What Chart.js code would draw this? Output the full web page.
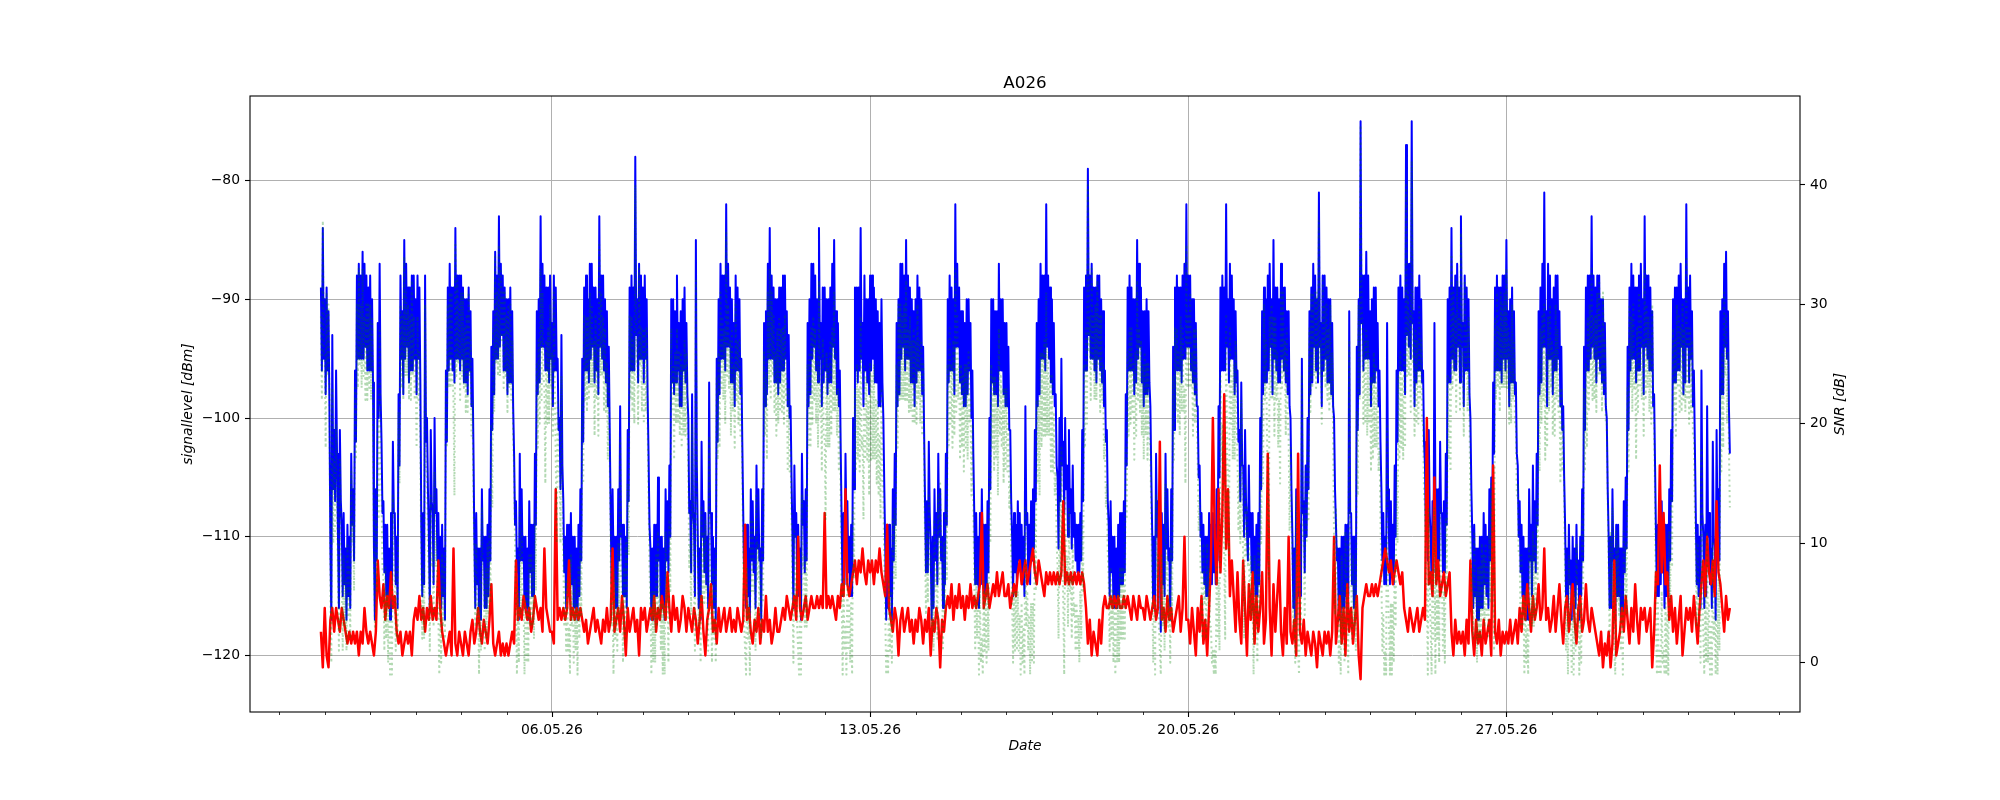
<!DOCTYPE html>
<html>
<head>
<meta charset="utf-8">
<script src="https://cdn.jsdelivr.net/npm/chart.js@4.4.1/dist/chart.umd.min.js"></script>
<style>
  html, body { margin: 0; padding: 0; background: #ffffff; }
  #wrap { width: 2000px; height: 800px; }
</style>
</head>
<body>
<div id="wrap"><canvas id="chart" width="2000" height="800"></canvas></div>
<script>
// x is counted in days since 01.05.26 00:00, first sample is 30.04.26 22:00
const startDay = -2 / 24;
const signalStep = 1 / 48; // signal level and SNR every 30 min
const noiseStep = 1 / 24;  // noise level every hour

// signal level [dBm], 30 min samples
const signalLevel = [
  -89, -96, -84, -95,
  -90, -98, -89, -96, -91, -99, -111, -117, -93, -106, -101, -107, -96, -103, -110, -116, -101, -107, -109, -115, -108, -114, -111, -117, -109, -115, -110, -116, -103, -109, -106, -112, -96, -102, -88, -95, -87, -95, -88, -95, -86, -95, -87, -94, -88, -96, -89, -96, // 01.05
  -88, -96, -90, -97, -111, -117, -106, -112, -92, -100, -87, -98, -102, -108, -107, -113, -109, -115, -109, -115, -111, -117, -108, -114, -102, -108, -108, -114, -110, -116, -98, -104, -88, -95, -91, -98, -85, -95, -87, -94, -89, -97, -89, -96, -88, -96, -88, -95, // 02.05
  -90, -98, -88, -95, -89, -97, -109, -115, -108, -114, -88, -102, -100, -106, -110, -116, -101, -107, -108, -114, -100, -108, -106, -112, -108, -114, -110, -116, -109, -115, -111, -117, -96, -102, -89, -96, -87, -95, -89, -96, -89, -97, -84, -95, -88, -95, -88, -96, // 03.05
  -88, -95, -89, -97, -90, -97, -90, -98, -89, -96, -91, -99, -95, -102, -110, -116, -108, -114, -111, -117, -111, -117, -106, -112, -110, -116, -110, -116, -109, -115, -106, -112, -94, -101, -91, -98, -86, -95, -88, -95, -83, -94, -87, -93, -88, -96, -89, -96, // 04.05
  -90, -98, -90, -97, -89, -97, -91, -99, -103, -109, -107, -113, -111, -117, -103, -112, -106, -112, -110, -116, -110, -116, -111, -117, -107, -113, -109, -115, -109, -115, -103, -109, -91, -98, -90, -97, -83, -94, -87, -94, -88, -96, -89, -96, -89, -97, -88, -95, // 05.05
  -92, -99, -88, -96, -89, -96, -95, -101, -100, -106, -93, -104, -107, -113, -110, -116, -109, -115, -109, -115, -108, -114, -110, -116, -110, -116, -111, -117, -109, -115, -106, -112, -95, -102, -89, -96, -88, -96, -90, -97, -87, -95, -87, -94, -89, -97, -89, -96, // 06.05
  -90, -98, -83, -94, -88, -95, -88, -96, -90, -97, -91, -99, -94, -101, -108, -114, -106, -112, -110, -116, -110, -116, -106, -112, -99, -110, -109, -115, -109, -115, -110, -116, -101, -107, -89, -96, -88, -96, -89, -96, -78, -93, -90, -97, -87, -95, -88, -95, // 07.05
  -89, -97, -88, -95, -90, -98, -103, -109, -111, -117, -111, -117, -109, -115, -109, -115, -105, -112, -110, -116, -110, -116, -111, -117, -106, -112, -107, -113, -104, -110, -90, -97, -90, -98, -91, -97, -88, -96, -92, -99, -91, -99, -90, -96, -89, -97, -92, -98, // 08.05
  -100, -108, -107, -113, -98, -108, -109, -115, -85, -104, -110, -116, -111, -117, -102, -110, -107, -113, -108, -114, -110, -116, -97, -108, -108, -114, -110, -116, -111, -117, -95, -102, -90, -98, -87, -95, -88, -95, -88, -96, -82, -94, -87, -94, -89, -97, -90, -97, // 09.05
  -92, -99, -88, -96, -89, -96, -90, -98, -95, -102, -108, -114, -110, -116, -109, -115, -111, -117, -106, -112, -107, -113, -110, -116, -104, -111, -106, -112, -111, -117, -106, -112, -92, -99, -91, -98, -87, -95, -84, -95, -88, -95, -89, -97, -90, -97, -90, -98, // 10.05
  -89, -97, -89, -96, -88, -96, -88, -95, -91, -99, -93, -100, -99, -105, -110, -116, -104, -110, -108, -114, -109, -115, -111, -117, -103, -109, -107, -113, -106, -112, -92, -99, -90, -98, -87, -95, -87, -94, -88, -96, -90, -97, -84, -95, -92, -99, -89, -97, // 11.05
  -89, -96, -90, -98, -90, -97, -89, -97, -87, -94, -85, -95, -91, -98, -92, -99, -96, -103, -109, -115, -108, -114, -103, -109, -107, -113, -110, -115, -109, -115, -100, -106, -89, -96, -89, -97, -89, -96, -84, -95, -92, -99, -88, -96, -90, -97, -90, -98, // 12.05
  -88, -96, -88, -95, -89, -97, -90, -97, -91, -99, -92, -99, -90, -97, -100, -106, -111, -117, -110, -116, -109, -115, -111, -117, -106, -112, -103, -109, -92, -99, -90, -98, -87, -95, -87, -94, -88, -96, -85, -95, -88, -95, -89, -97, -90, -97, -91, -99, // 13.05
  -90, -97, -88, -96, -89, -96, -90, -98, -94, -101, -107, -113, -107, -113, -102, -108, -111, -117, -110, -116, -106, -112, -108, -114, -103, -110, -106, -112, -110, -116, -108, -114, -103, -109, -90, -97, -88, -96, -89, -96, -90, -98, -82, -94, -87, -94, -89, -97, // 14.05
  -91, -98, -91, -99, -92, -99, -90, -98, -90, -96, -92, -100, -96, -103, -108, -114, -108, -114, -110, -116, -108, -114, -106, -112, -109, -115, -109, -115, -107, -113, -100, -106, -90, -97, -90, -98, -91, -98, -91, -99, -87, -96, -90, -96, -90, -98, -92, -99, // 15.05
  -92, -99, -94, -101, -101, -107, -110, -115, -108, -113, -109, -114, -107, -112, -108, -113, -109, -114, -110, -115, -99, -109, -108, -113, -109, -114, -107, -112, -106, -111, -101, -107, -92, -99, -90, -98, -87, -95, -88, -95, -88, -96, -82, -94, -88, -95, -89, -97, // 16.05
  -90, -98, -92, -99, -98, -104, -105, -111, -100, -107, -95, -104, -102, -108, -100, -106, -104, -110, -101, -108, -106, -111, -104, -110, -108, -112, -109, -113, -109, -113, -108, -112, -101, -107, -89, -96, -88, -96, -79, -93, -88, -95, -87, -95, -89, -96, -89, -97, // 17.05
  -88, -95, -88, -96, -90, -97, -91, -99, -96, -102, -101, -107, -109, -115, -107, -113, -110, -116, -110, -116, -111, -116, -109, -115, -108, -114, -108, -114, -107, -113, -98, -104, -89, -96, -88, -96, -89, -96, -90, -98, -90, -97, -85, -95, -87, -94, -89, -97, // 18.05
  -91, -99, -91, -98, -90, -98, -91, -97, -99, -105, -110, -116, -110, -116, -103, -110, -107, -113, -112, -118, -108, -114, -109, -115, -103, -111, -106, -112, -111, -117, -106, -112, -94, -101, -89, -96, -88, -96, -89, -96, -89, -97, -88, -95, -87, -95, -82, -94, // 19.05
  -88, -94, -88, -96, -90, -97, -90, -98, -92, -99, -99, -105, -104, -110, -108, -113, -109, -114, -110, -115, -110, -115, -108, -113, -109, -114, -108, -113, -109, -114, -106, -112, -99, -105, -89, -96, -88, -96, -89, -96, -82, -94, -90, -97, -87, -95, -88, -95, // 20.05
  -90, -98, -91, -97, -96, -102, -101, -107, -97, -104, -104, -110, -101, -107, -107, -112, -104, -110, -108, -113, -108, -114, -110, -115, -109, -115, -108, -114, -100, -106, -91, -98, -89, -97, -90, -97, -88, -96, -87, -94, -90, -98, -85, -95, -89, -96, -89, -97, // 21.05
  -90, -97, -87, -95, -89, -96, -89, -97, -91, -98, -91, -99, -100, -106, -110, -116, -111, -117, -106, -112, -109, -115, -109, -115, -95, -108, -107, -113, -104, -110, -100, -106, -91, -98, -89, -97, -87, -94, -88, -96, -90, -97, -81, -94, -92, -99, -88, -96, // 22.05
  -88, -95, -89, -97, -90, -97, -90, -98, -92, -99, -100, -106, -106, -112, -111, -117, -111, -117, -110, -116, -110, -116, -109, -115, -109, -115, -91, -108, -108, -114, -110, -116, -110, -116, -94, -101, -90, -98, -75, -92, -88, -96, -88, -95, -86, -95, -88, -95, // 23.05
  -91, -99, -90, -97, -89, -97, -89, -96, -92, -99, -96, -102, -106, -112, -108, -114, -110, -114, -92, -106, -110, -114, -107, -113, -109, -114, -104, -110, -96, -102, -89, -96, -88, -96, -89, -96, -90, -98, -77, -93, -87, -94, -87, -95, -75, -92, -91, -99, // 24.05
  -89, -97, -89, -96, -88, -96, -90, -97, -96, -102, -104, -110, -106, -112, -101, -108, -110, -114, -107, -113, -92, -106, -106, -112, -106, -112, -102, -108, -108, -113, -107, -113, -103, -109, -90, -97, -89, -97, -84, -95, -89, -96, -88, -96, -87, -94, -89, -97, // 25.05
  -83, -94, -92, -99, -88, -96, -89, -96, -90, -98, -100, -106, -110, -116, -109, -115, -111, -117, -111, -117, -110, -116, -110, -116, -108, -114, -109, -115, -110, -116, -106, -112, -105, -111, -97, -103, -89, -96, -88, -96, -89, -96, -89, -97, -88, -95, -88, -96, // 26.05
  -85, -95, -91, -99, -90, -97, -89, -97, -91, -98, -97, -103, -104, -110, -107, -113, -109, -115, -110, -116, -111, -117, -111, -117, -106, -112, -109, -115, -104, -112, -107, -113, -103, -109, -91, -98, -89, -97, -87, -94, -81, -94, -91, -99, -87, -95, -88, -95, // 27.05
  -90, -98, -89, -96, -88, -96, -88, -95, -91, -99, -94, -101, -99, -105, -109, -115, -111, -116, -109, -114, -112, -117, -110, -115, -111, -116, -109, -114, -112, -117, -110, -115, -106, -112, -94, -101, -89, -96, -88, -96, -88, -95, -83, -94, -88, -95, -89, -97, // 28.05
  -88, -95, -88, -96, -90, -97, -90, -98, -92, -99, -100, -106, -110, -116, -110, -116, -106, -112, -111, -117, -109, -115, -109, -115, -111, -117, -111, -117, -107, -113, -105, -111, -94, -101, -89, -96, -87, -95, -88, -95, -89, -97, -89, -96, -88, -96, -87, -94, // 29.05
  -90, -98, -83, -94, -88, -95, -88, -96, -89, -96, -91, -99, -98, -104, -110, -115, -109, -115, -108, -114, -107, -113, -110, -116, -109, -115, -109, -115, -106, -112, -101, -107, -90, -97, -89, -97, -89, -96, -88, -96, -87, -94, -90, -98, -90, -97, -82, -94, // 30.05
  -89, -97, -88, -95, -91, -99, -96, -102, -108, -114, -109, -115, -110, -116, -96, -108, -110, -116, -109, -115, -99, -110, -108, -114, -111, -116, -102, -110, -111, -117, -101, -110, -106, -112, -91, -98, -90, -98, -87, -94, -86, -95, -91, -99, -103, // 31.05
];

// noise level [dBm], hourly samples
const noiseLevel = [
  -118, -121,
  -116, -120, -121, -117, -116, -118, -116, -117, -118, -116, -117, -118, -119, -118, -119, -118, -119, -118, -120, -118, -119, -116, -118, -119, // 01.05
  -118, -119, -120, -118, -112, -115, -116, -114, -117, -115, -116, -113, -116, -115, -118, -119, -118, -120, -119, -118, -119, -118, -120, -117, // 02.05
  -116, -117, -115, -117, -116, -118, -116, -117, -115, -117, -116, -117, -112, -116, -118, -119, -120, -119, -118, -120, -111, -119, -120, -118, // 03.05
  -119, -120, -118, -119, -120, -118, -117, -119, -118, -116, -118, -119, -117, -118, -119, -117, -114, -119, -120, -119, -118, -120, -119, -120, // 04.05
  -119, -120, -119, -118, -119, -112, -117, -116, -117, -115, -116, -117, -116, -118, -117, -115, -116, -117, -116, -118, -111, -116, -117, -118, // 05.05
  -118, -119, -106, -117, -116, -117, -116, -117, -116, -112, -117, -116, -117, -116, -117, -116, -117, -118, -117, -119, -118, -117, -116, -118, // 06.05
  -117, -118, -119, -117, -118, -116, -118, -117, -111, -118, -117, -116, -118, -115, -117, -120, -116, -118, -117, -116, -118, -117, -120, -116, // 07.05
  -117, -116, -118, -117, -116, -117, -115, -118, -116, -117, -115, -116, -117, -113, -116, -118, -115, -117, -116, -118, -117, -115, -116, -118, // 08.05
  -116, -117, -118, -116, -117, -119, -117, -115, -118, -120, -117, -116, -114, -118, -117, -119, -116, -118, -117, -116, -118, -117, -116, -118, // 09.05
  -117, -118, -116, -117, -118, -117, -109, -117, -116, -118, -119, -117, -118, -116, -119, -117, -118, -115, -118, -117, -119, -118, -116, -118, // 10.05
  -118, -117, -116, -117, -115, -116, -117, -116, -115, -117, -110, -116, -117, -116, -115, -117, -116, -115, -116, -116, -115, -116, -115, -116, // 11.05
  -108, -116, -115, -116, -115, -116, -117, -115, -116, -114, -115, -106, -114, -115, -114, -113, -112, -114, -112, -113, -111, -113, -114, -112, // 12.05
  -113, -112, -114, -112, -113, -111, -113, -114, -115, -109, -116, -117, -118, -116, -117, -120, -117, -116, -118, -117, -116, -118, -117, -119, // 13.05
  -117, -118, -116, -117, -119, -117, -118, -116, -120, -117, -118, -116, -117, -121, -117, -118, -116, -115, -116, -114, -117, -115, -116, -114, // 14.05
  -116, -115, -117, -115, -116, -114, -116, -115, -116, -115, -114, -108, -116, -115, -114, -116, -115, -114, -115, -113, -115, -114, -113, -115, // 15.05
  -115, -114, -116, -115, -114, -115, -113, -112, -114, -113, -112, -114, -113, -112, -111, -113, -114, -112, -113, -114, -115, -113, -114, -113, // 16.05
  -114, -113, -114, -113, -114, -113, -107, -114, -113, -114, -113, -114, -113, -114, -113, -114, -113, -114, -116, -119, -117, -120, -118, -119, // 17.05
  -120, -117, -119, -116, -115, -116, -116, -115, -116, -115, -116, -115, -116, -116, -115, -116, -115, -116, -117, -115, -116, -117, -115, -116, // 18.05
  -116, -117, -115, -116, -117, -116, -115, -117, -116, -102, -117, -116, -118, -115, -117, -116, -118, -117, -116, -115, -118, -116, -110, -117, // 19.05
  -117, -119, -116, -118, -120, -116, -118, -115, -119, -117, -120, -116, -112, -100, -110, -114, -106, -113, -108, -98, -111, -106, -115, -112, // 20.05
  -115, -118, -113, -117, -119, -112, -116, -120, -114, -117, -113, -119, -115, -118, -116, -113, -119, -117, -103, -116, -120, -114, -118, -115, // 21.05
  -112, -118, -120, -116, -119, -110, -118, -119, -117, -120, -103, -118, -119, -117, -120, -118, -119, -120, -118, -119, -121, -118, -119, -120, // 22.05
  -118, -119, -118, -120, -118, -110, -119, -117, -115, -119, -116, -120, -114, -118, -116, -119, -117, -115, -120, -122, -116, -115, -114, -115, // 23.05
  -115, -114, -115, -114, -115, -114, -113, -112, -111, -112, -113, -112, -114, -113, -112, -113, -114, -113, -116, -117, -118, -116, -117, -118, // 24.05
  -117, -116, -118, -117, -116, -117, -100, -114, -113, -115, -105, -114, -112, -115, -114, -113, -115, -114, -113, -118, -120, -117, -119, -118, // 25.05
  -119, -118, -120, -117, -119, -112, -118, -120, -117, -119, -118, -120, -117, -119, -118, -117, -120, -104, -118, -119, -117, -120, -118, -119, // 26.05
  -118, -119, -117, -119, -118, -117, -119, -116, -118, -115, -117, -114, -116, -118, -115, -117, -116, -114, -117, -116, -111, -117, -116, -118, // 27.05
  -117, -115, -118, -116, -114, -117, -119, -116, -115, -118, -116, -114, -117, -119, -116, -115, -118, -117, -114, -117, -118, -116, -117, -118, // 28.05
  -119, -120, -118, -121, -119, -120, -118, -121, -119, -112, -120, -119, -118, -116, -118, -115, -117, -119, -116, -118, -114, -117, -119, -116, // 29.05
  -117, -116, -118, -117, -116, -121, -118, -113, -114, -104, -113, -108, -114, -113, -117, -115, -118, -116, -119, -117, -115, -120, -118, -116, // 30.05
  -117, -116, -118, -115, -117, -119, -116, -114, -112, -115, -110, -113, -114, -112, -115, -107, -113, -114, -116, -118, -115, -117, -116, // 31.05
];

// SNR [dB], right axis, 30 min samples
const snr = [
  29, 22, 37, 26,
  26, 18, 31, 24, 30, 22, 6, 0, 23, 10, 17, 11, 20, 13, 7, 1, 17, 11, 7, 1, 9, 3, 7, 1, 10, 4, 8, 2, 16, 10, 12, 6, 23, 17, 30, 23, 33, 25, 30, 23, 33, 24, 29, 22, 30, 22, 30, 23, // 01.05
  30, 22, 29, 22, 9, 3, 12, 6, 20, 12, 28, 17, 14, 8, 7, 1, 8, 2, 6, 0, 5, -1, 5, -1, 14, 8, 7, 1, 8, 2, 21, 15, 30, 23, 29, 22, 34, 24, 31, 24, 30, 22, 29, 22, 32, 24, 29, 22, // 02.05
  26, 18, 29, 22, 26, 18, 8, 2, 8, 2, 30, 16, 16, 10, 7, 1, 14, 8, 9, 3, 16, 8, 11, 5, 4, -1, 6, 0, 9, 3, 8, 2, 24, 18, 30, 23, 31, 23, 31, 24, 22, 14, 35, 24, 32, 25, 30, 22, // 03.05
  31, 24, 31, 23, 28, 21, 29, 21, 31, 24, 27, 19, 22, 15, 9, 3, 10, 4, 5, -1, 7, 1, 13, 7, 7, 1, 8, 2, 10, 4, 11, 5, 20, 13, 28, 21, 34, 25, 31, 24, 35, 24, 33, 27, 31, 23, 31, 24, // 04.05
  29, 21, 30, 23, 30, 22, 27, 19, 16, 10, 5, -1, 6, 0, 13, 4, 11, 5, 5, -1, 6, 0, 6, 0, 9, 3, 9, 3, 8, 2, 12, 6, 25, 18, 27, 20, 33, 22, 31, 24, 23, 15, 27, 20, 28, 20, 30, 23, // 05.05
  26, 19, 31, 23, 17, 10, 22, 16, 16, 10, 24, 13, 9, 3, 7, 1, 7, 1, 3, -1, 9, 3, 6, 0, 7, 1, 5, -1, 8, 2, 10, 4, 22, 15, 29, 22, 29, 21, 29, 22, 31, 23, 30, 23, 27, 19, 29, 22, // 06.05
  27, 19, 35, 24, 31, 24, 29, 21, 28, 21, 25, 17, 24, 17, 9, 3, 5, -1, 8, 2, 7, 1, 10, 4, 19, 8, 6, 0, 8, 2, 10, 4, 15, 9, 29, 22, 29, 21, 27, 20, 40, 25, 27, 20, 33, 25, 28, 21, // 07.05
  28, 20, 28, 21, 28, 20, 14, 8, 5, -1, 6, 0, 6, 0, 9, 3, 11, 4, 7, 1, 5, -1, 5, -1, 11, 5, 6, 0, 12, 6, 28, 21, 25, 17, 26, 20, 28, 20, 26, 19, 26, 18, 25, 19, 27, 19, 26, 20, // 08.05
  16, 8, 10, 4, 20, 10, 7, 1, 32, 13, 9, 3, 6, 0, 13, 5, 11, 5, 12, 6, 7, 1, 19, 8, 6, 0, 8, 2, 6, 0, 24, 17, 26, 18, 31, 23, 29, 22, 28, 20, 36, 24, 30, 23, 27, 19, 28, 21, // 09.05
  25, 18, 30, 22, 27, 20, 27, 19, 23, 16, 9, 3, 1, -1, 8, 2, 5, -1, 12, 6, 12, 6, 7, 1, 14, 7, 10, 4, 8, 2, 11, 5, 26, 19, 24, 17, 31, 23, 33, 22, 31, 24, 29, 21, 26, 19, 28, 20, // 10.05
  29, 21, 28, 21, 28, 20, 29, 22, 24, 16, 23, 16, 18, 12, 6, 0, 11, 5, 9, 3, 1, -1, 5, -1, 14, 8, 9, 3, 9, 3, 25, 18, 26, 18, 28, 20, 29, 22, 28, 20, 25, 18, 32, 21, 23, 16, 27, 19, // 11.05
  19, 12, 26, 18, 25, 18, 27, 19, 28, 21, 31, 21, 26, 19, 23, 16, 20, 13, 5, -1, 7, 1, 3, -1, 7, 1, 5, 0, 5, -1, 13, 7, 23, 16, 25, 17, 23, 16, 29, 18, 19, 12, 25, 17, 24, 17, 22, 14, // 12.05
  25, 17, 24, 17, 25, 17, 22, 15, 22, 14, 19, 12, 23, 16, 14, 8, 4, -1, 1, -1, 7, 1, 6, 0, 12, 6, 13, 7, 25, 18, 30, 22, 30, 22, 29, 22, 30, 22, 32, 22, 28, 21, 29, 21, 27, 20, 28, 20, // 13.05
  27, 20, 30, 22, 27, 20, 27, 19, 25, 18, 10, 4, 11, 5, 14, 8, 9, 3, 7, 1, 12, 6, 8, 2, 14, 7, 15, 9, 7, 1, 10, 4, 13, 7, 25, 18, 28, 20, 25, 18, 27, 19, 33, 21, 29, 22, 25, 17, // 14.05
  25, 18, 24, 16, 25, 18, 25, 17, 26, 20, 22, 14, 20, 13, 7, 1, 8, 2, 5, -1, 6, 0, 2, -1, 7, 1, 6, 0, 7, 1, 16, 10, 25, 18, 24, 16, 24, 17, 22, 14, 28, 19, 24, 18, 23, 15, 23, 16, // 15.05
  23, 16, 20, 13, 15, 9, 5, 0, 6, 1, 6, 1, 6, 1, 4, -1, 5, 0, 3, -1, 13, 3, 6, 1, 4, -1, 5, 0, 5, 0, 12, 6, 22, 15, 22, 14, 26, 18, 26, 19, 27, 19, 31, 19, 26, 19, 24, 16, // 16.05
  24, 16, 21, 14, 16, 10, 8, 2, 14, 7, 18, 9, 5, -1, 14, 8, 9, 3, 13, 6, 7, 2, 10, 4, 5, 1, 5, 1, 4, 0, 6, 2, 12, 6, 25, 18, 28, 20, 40, 26, 29, 22, 33, 25, 29, 22, 30, 22, // 17.05
  32, 25, 29, 21, 29, 22, 25, 17, 19, 13, 15, 9, 7, 1, 8, 2, 6, 0, 5, -1, 5, 0, 6, 0, 8, 2, 8, 2, 8, 2, 18, 12, 26, 19, 28, 20, 28, 21, 25, 17, 26, 19, 32, 22, 28, 21, 27, 19, // 18.05
  25, 17, 26, 19, 25, 17, 25, 19, 18, 12, 6, 0, 5, -1, 14, 7, 9, 3, 1, -1, 9, 3, 7, 1, 15, 7, 9, 3, 6, 0, 10, 4, 24, 17, 28, 21, 28, 20, 26, 19, 29, 21, 28, 21, 23, 15, 35, 23, // 19.05
  29, 23, 31, 23, 26, 19, 28, 20, 28, 21, 17, 11, 14, 8, 7, 2, 10, 5, 7, 2, 10, 5, 8, 3, 3, 0, 1, -1, 1, -1, 8, 2, 7, 1, 24, 17, 20, 12, 9, 2, 29, 17, 16, 9, 28, 20, 24, 17, // 20.05
  25, 17, 27, 21, 17, 11, 16, 10, 22, 15, 8, 2, 15, 9, 13, 8, 10, 4, 9, 4, 5, -1, 9, 4, 6, 0, 10, 4, 16, 10, 22, 15, 30, 22, 27, 20, 15, 7, 29, 22, 30, 22, 29, 19, 29, 22, 26, 18, // 21.05
  22, 15, 31, 23, 31, 24, 27, 19, 28, 21, 19, 11, 18, 12, 9, 3, 6, 0, 14, 8, 1, -1, 9, 3, 24, 11, 10, 4, 16, 10, 18, 12, 28, 21, 31, 23, 31, 24, 31, 23, 31, 24, 37, 24, 27, 20, 32, 24, // 22.05
  30, 23, 30, 22, 28, 21, 30, 22, 26, 19, 10, 4, 13, 7, 6, 0, 4, -1, 9, 3, 6, 0, 11, 5, 5, -1, 27, 10, 8, 2, 9, 3, 7, 1, 21, 14, 30, 22, 45, 30, 28, 20, 27, 20, 28, 19, 27, 20, // 23.05
  24, 16, 24, 17, 26, 18, 25, 18, 23, 16, 18, 12, 7, 1, 4, -1, 1, -1, 20, 6, 3, -1, 5, -1, 5, 0, 9, 3, 16, 10, 24, 17, 26, 18, 24, 17, 26, 18, 40, 24, 31, 24, 29, 21, 42, 25, 27, 19, // 24.05
  28, 20, 27, 20, 30, 22, 27, 20, 20, 14, 13, 7, 6, -1, 13, 6, 3, -1, 8, 2, 13, -1, 8, 2, 6, 0, 13, 7, 6, 1, 6, 0, 12, 6, 24, 17, 24, 16, 34, 23, 31, 24, 29, 21, 32, 25, 29, 21, // 25.05
  36, 25, 26, 19, 32, 24, 28, 21, 29, 21, 12, 6, 8, 2, 11, 5, 6, 0, 8, 2, 8, 2, 10, 4, 9, 3, 10, 4, 8, 2, 11, 5, 15, 9, 7, 1, 29, 22, 31, 23, 28, 21, 31, 23, 30, 23, 31, 23, // 26.05
  33, 23, 28, 20, 27, 20, 30, 22, 27, 20, 20, 14, 15, 9, 9, 3, 9, 3, 5, -1, 6, 0, 3, -1, 10, 4, 9, 3, 11, 3, 10, 4, 13, 7, 23, 16, 28, 20, 29, 22, 30, 17, 26, 18, 29, 21, 30, 23, // 27.05
  27, 19, 26, 19, 30, 22, 28, 21, 23, 15, 23, 16, 20, 14, 7, 1, 4, -1, 9, 4, 4, -1, 4, -1, 6, 1, 10, 5, 4, -1, 5, 0, 12, 6, 23, 16, 25, 18, 29, 21, 30, 23, 33, 22, 29, 22, 29, 21, // 28.05
  31, 24, 32, 24, 28, 21, 31, 23, 27, 20, 20, 14, 8, 2, 11, 5, 13, 7, 1, -1, 11, 5, 10, 4, 7, 1, 5, -1, 11, 5, 10, 4, 23, 16, 30, 23, 29, 21, 30, 23, 25, 17, 28, 21, 31, 23, 29, 22, // 29.05
  27, 19, 33, 22, 30, 23, 29, 21, 27, 20, 30, 22, 20, 14, 3, -1, 5, -1, 1, -1, 6, 0, 1, -1, 5, -1, 4, -1, 11, 5, 14, 8, 28, 21, 27, 19, 30, 23, 29, 21, 28, 21, 30, 22, 28, 21, 34, 22, // 30.05
  28, 20, 28, 21, 27, 19, 19, 13, 9, 3, 10, 4, 6, 0, 18, 6, 2, -1, 6, 0, 11, 0, 5, -1, 3, -1, 10, 2, 4, -1, 6, -1, 7, 1, 23, 16, 26, 18, 31, 24, 29, 20, 26, 18, 13, // 31.05
];

const xTickDays = [5, 12, 19, 26];
const xTickLabels = ["06.05.26", "13.05.26", "20.05.26", "27.05.26"];
const leftTicks = [-120, -110, -100, -90, -80];
const rightTicks = [0, 10, 20, 30, 40];

const FONT = "DejaVu Sans";
const toPoints = (values, step) => values.map((v, i) => ({ x: startDay + i * step, y: v }));
const minusSign = (v) => String(v).replace("-", "\u2212");

// spines, minor x ticks, title and axis labels drawn like matplotlib does
const frame = {
  id: "frame",
  afterDraw(chart) {
    const { ctx, chartArea: a, scales } = chart;
    ctx.save();
    ctx.strokeStyle = "#000000";
    for (let d = Math.ceil(scales.x.min); d <= scales.x.max; d++) {
      const major = xTickDays.includes(d);
      const px = Math.round(scales.x.getPixelForValue(d)) + 0.5;
      ctx.lineWidth = major ? 1.1 : 0.8;
      ctx.beginPath();
      ctx.moveTo(px, a.bottom);
      ctx.lineTo(px, a.bottom + (major ? 5 : 3));
      ctx.stroke();
    }
    ctx.lineWidth = 1.1;
    ctx.strokeRect(a.left, a.top, a.right - a.left, a.bottom - a.top);

    const midX = (a.left + a.right) / 2;
    const midY = (a.top + a.bottom) / 2;
    ctx.fillStyle = "#000000";
    ctx.textAlign = "center";
    ctx.textBaseline = "alphabetic";
    ctx.font = `16.7px "${FONT}"`;
    ctx.fillText("A026", midX, a.top - 8.3);

    ctx.font = `italic 13.9px "${FONT}"`;
    ctx.textBaseline = "middle";
    ctx.fillText("Date", midX, 746);

    ctx.save();
    ctx.translate(188, midY);
    ctx.rotate(-Math.PI / 2);
    ctx.fillText("signallevel [dBm]", 0, 0);
    ctx.restore();

    ctx.save();
    ctx.translate(1840, midY);
    ctx.rotate(-Math.PI / 2);
    ctx.fillText("SNR [dB]", 0, 0);
    ctx.restore();
    ctx.restore();
  },
};

const tickFont = { family: FONT, size: 13.9 };

new Chart(document.getElementById("chart").getContext("2d"), {
  type: "line",
  data: {
    datasets: [
      {
        label: "signal level",
        data: toPoints(signalLevel, signalStep),
        yAxisID: "y",
        borderColor: "#0000ff",
        borderWidth: 2,
        order: 2,
      },
      {
        label: "noise level",
        data: toPoints(noiseLevel, noiseStep),
        yAxisID: "y",
        borderColor: "#ff0000",
        borderWidth: 2.5,
        order: 1,
      },
      {
        label: "SNR",
        data: toPoints(snr, signalStep),
        yAxisID: "y1",
        borderColor: "rgba(0, 128, 0, 0.3)",
        borderWidth: 2,
        borderDash: [2, 3.3],
        order: 0,
      },
    ],
  },
  options: {
    responsive: false,
    animation: false,
    events: [],
    parsing: false,
    normalized: true,
    layout: { padding: { top: 96, left: 0, right: 0, bottom: 0 } },
    elements: {
      point: { radius: 0 },
      line: { tension: 0, fill: false, borderJoinStyle: "round", borderCapStyle: "butt" },
    },
    plugins: {
      legend: { display: false },
      tooltip: { enabled: false },
      title: { display: false },
    },
    scales: {
      x: {
        type: "linear",
        min: -1.644,
        max: 32.46,
        afterFit: (s) => { s.height = 88; },
        afterBuildTicks: (s) => { s.ticks = xTickDays.map((v) => ({ value: v })); },
        ticks: {
          autoSkip: false,
          maxRotation: 0,
          minRotation: 0,
          padding: 10,
          color: "#000000",
          font: tickFont,
          callback: (v) => xTickLabels[xTickDays.indexOf(v)] || "",
        },
        grid: { drawTicks: false, color: "#b0b0b0", lineWidth: 1 },
        border: { display: false },
      },
      y: {
        type: "linear",
        position: "left",
        min: -124.76,
        max: -72.88,
        afterFit: (s) => { s.width = 250; },
        afterBuildTicks: (s) => { s.ticks = leftTicks.map((v) => ({ value: v })); },
        ticks: { padding: 5, color: "#000000", font: tickFont, callback: (v) => minusSign(v) },
        grid: { color: "#b0b0b0", lineWidth: 1, tickColor: "#000000", tickLength: 5, tickWidth: 1.1 },
        border: { display: false },
      },
      y1: {
        type: "linear",
        position: "right",
        min: -4.13,
        max: 47.45,
        afterFit: (s) => { s.width = 200; },
        afterBuildTicks: (s) => { s.ticks = rightTicks.map((v) => ({ value: v })); },
        ticks: { padding: 5, color: "#000000", font: tickFont, callback: (v) => minusSign(v) },
        grid: { drawOnChartArea: false, tickColor: "#000000", tickLength: 5, tickWidth: 1.1 },
        border: { display: false },
      },
    },
  },
  plugins: [frame],
});
</script>
</body>
</html>
